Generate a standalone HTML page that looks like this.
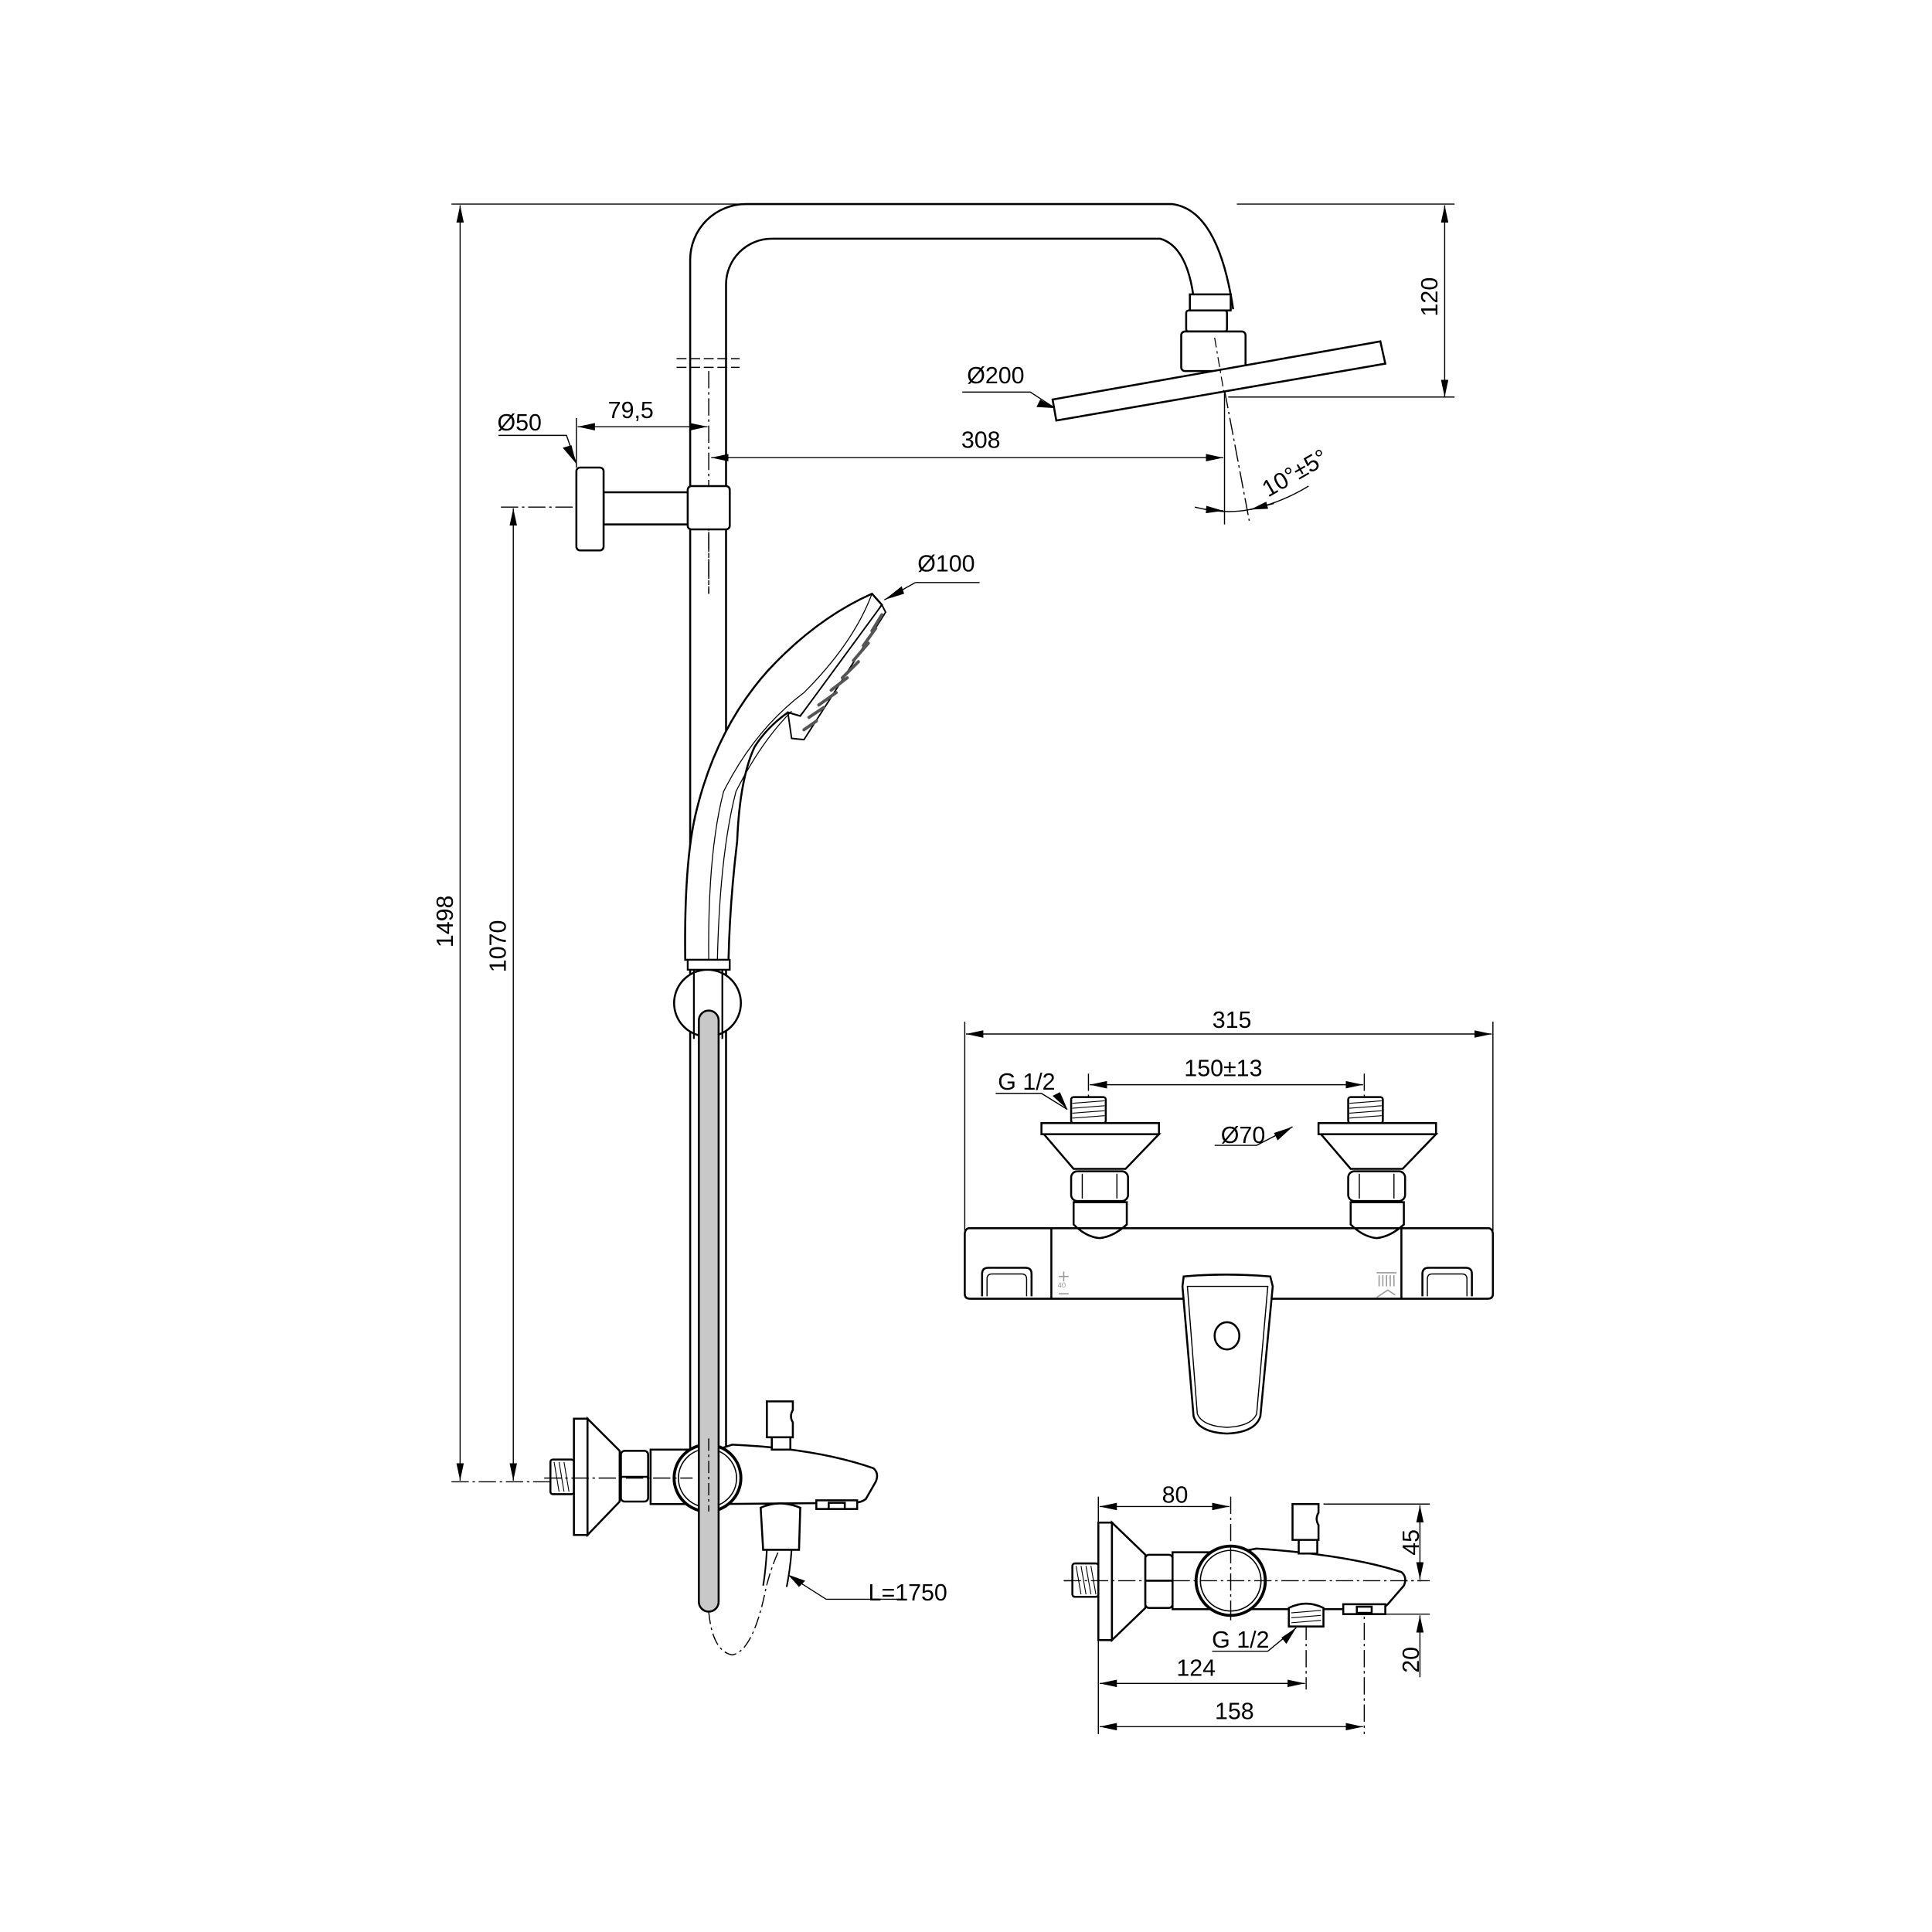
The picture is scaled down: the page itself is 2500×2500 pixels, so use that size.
<!DOCTYPE html>
<html><head><meta charset="utf-8"><style>
html,body{margin:0;padding:0;background:#fff}
svg{display:block}
text{font-family:"Liberation Sans",sans-serif;font-size:19px;fill:#000}
</style></head><body>
<svg width="2500" height="2500" viewBox="0 0 1562 1562" xmlns="http://www.w3.org/2000/svg">
<defs>
<marker id="a" viewBox="0 0 14 6" refX="14" refY="3" markerWidth="14" markerHeight="6" markerUnits="userSpaceOnUse" orient="auto-start-reverse"><path d="M0,0L14,3L0,6z"/></marker>
</defs>
<rect width="1562" height="1562" fill="#fff"/>

<!-- dimension / extension lines -->
<g stroke="#000" stroke-width="0.9" fill="none">
<line x1="365" y1="165" x2="603" y2="165"/>
<line x1="1000" y1="165" x2="1176" y2="165"/>
<line x1="372" y1="166" x2="372" y2="1197" marker-start="url(#a)" marker-end="url(#a)"/>
<line x1="415" y1="411" x2="415" y2="1197" marker-start="url(#a)" marker-end="url(#a)"/>
<line x1="405" y1="410" x2="466" y2="410" stroke-dasharray="14 3 2 3"/>
<line x1="365" y1="1198" x2="445" y2="1198" stroke-dasharray="14 3 2 3"/>
<line x1="1168" y1="166" x2="1168" y2="321" marker-start="url(#a)" marker-end="url(#a)"/>
<line x1="993" y1="321" x2="1176" y2="321"/>
<line x1="575" y1="370" x2="989" y2="370" marker-start="url(#a)" marker-end="url(#a)"/>
<line x1="467" y1="345" x2="572" y2="345" marker-start="url(#a)" marker-end="url(#a)"/>
<line x1="466" y1="338" x2="466" y2="378"/>
<line x1="990" y1="317" x2="990" y2="424"/>
<line x1="982" y1="273" x2="1010" y2="421" stroke-dasharray="14 3 2 3"/>
<path d="M966,410 Q990,416 1010,412 Q1035,407 1058,393"/>
<line x1="976" y1="412" x2="989" y2="413" marker-end="url(#a)"/>
<line x1="1030" y1="407" x2="1011" y2="412" marker-end="url(#a)"/>
<!-- leaders -->
<polyline points="403,352 458,352 466,375" />
<polyline points="778,317 833,317 853,330"/>
<polyline points="740,471 792,471" />
<line x1="740" y1="471" x2="715" y2="485"/>
<polyline points="731,1293 668,1293 646,1279"/>
<polyline points="805,884 842,884 863,897"/>
<polyline points="982,926 1016,926 1045,911"/>
<polyline points="980,1335 1025,1335 1048,1316"/>
<!-- front view dims -->
<line x1="781" y1="836" x2="1206" y2="836" marker-start="url(#a)" marker-end="url(#a)"/>
<line x1="780" y1="826" x2="780" y2="995"/>
<line x1="1207" y1="826" x2="1207" y2="995"/>
<line x1="881" y1="877" x2="1102" y2="877" marker-start="url(#a)" marker-end="url(#a)"/>
<line x1="880" y1="868" x2="880" y2="912" stroke-dasharray="14 3 2 3"/>
<line x1="1103" y1="868" x2="1103" y2="912" stroke-dasharray="14 3 2 3"/>
<!-- bottom right dims -->
<line x1="889" y1="1218" x2="994" y2="1218" marker-start="url(#a)" marker-end="url(#a)"/>
<line x1="888" y1="1210" x2="888" y2="1402"/>
<line x1="995" y1="1210" x2="995" y2="1310" stroke-dasharray="14 3 2 3"/>
<line x1="1056" y1="1290" x2="1056" y2="1366" stroke-dasharray="14 3 2 3"/>
<line x1="1103" y1="1290" x2="1103" y2="1402" stroke-dasharray="14 3 2 3"/>
<line x1="889" y1="1361" x2="1055" y2="1361" marker-start="url(#a)" marker-end="url(#a)"/>
<line x1="889" y1="1396" x2="1102" y2="1396" marker-start="url(#a)" marker-end="url(#a)"/>
<line x1="1070" y1="1216" x2="1156" y2="1216"/>
<line x1="1120" y1="1305" x2="1156" y2="1305"/>
<line x1="1148" y1="1217" x2="1148" y2="1277" marker-start="url(#a)" marker-end="url(#a)"/>
<line x1="1148" y1="1306" x2="1148" y2="1356" marker-start="url(#a)"/>
<line x1="860" y1="1278" x2="1156" y2="1278" stroke-dasharray="14 3 2 3"/>
</g>

<!-- riser -->
<g stroke="#000" stroke-width="1.6" fill="none">
<path d="M558,1172 V210 A45,45 0 0 1 603,165 H948 Q985,170 997,250"/>
<path d="M587,1172 V230 A37,37 0 0 1 624,193 H938 Q962,200 966,250"/>
</g>
<g stroke="#000" stroke-width="0.9" fill="none" stroke-dasharray="8 3">
<line x1="547" y1="290" x2="598" y2="290"/>
<line x1="547" y1="297" x2="598" y2="297"/>
</g>
<line x1="573" y1="300" x2="573" y2="480" stroke="#000" stroke-width="0.9" stroke-dasharray="14 3 2 3"/>

<!-- head -->
<g stroke="#000" stroke-width="1.6" fill="#fff">
<rect x="962" y="238" width="33" height="13"/>
<rect x="959" y="251" width="33" height="17" rx="2"/>
<rect x="955" y="268" width="52" height="32" rx="3"/>
<polygon points="851,323 1116,276 1120,294 854,340"/>
</g>
<line x1="982" y1="273" x2="990" y2="320" stroke="#000" stroke-width="0.8" stroke-dasharray="8 3 2 3"/>

<!-- wall bracket -->
<g stroke="#000" stroke-width="1.6" fill="#fff">
<rect x="488" y="398" width="70" height="26"/>
<rect x="466" y="378" width="22" height="67" rx="3"/>
<rect x="556" y="393" width="34" height="35" rx="3"/>
</g>
<line x1="573" y1="430" x2="573" y2="480" stroke="#000" stroke-width="0.9" stroke-dasharray="14 3 2 3"/>

<!-- hand shower -->
<g stroke="#000" stroke-width="1.6" fill="#fff">
<path d="M554,776 Q553,700 562,660 Q578,590 621,542 Q660,500 705,480 L713,489 Q690,525 647,579 L637,576 Q620,588 610,604 Q598,630 596,680 Q590,730 589,776 Z"/>
<path d="M713,489 L716,495 L650,598 L640,597 L637,576 L647,579 Z" stroke-width="1.2"/>
</g>
<g stroke="#000" stroke-width="0.8" fill="none">
<path d="M573,776 Q572,690 585,640 Q610,590 650,560 Q690,520 705,480"/>
<path d="M580,776 Q582,690 595,640 Q615,600 640,575"/>
</g>
<g stroke="#555" stroke-width="2.5" stroke-linecap="round">
<line x1="713" y1="497" x2="705" y2="510"/><line x1="708" y1="508" x2="698" y2="522"/>
<line x1="702" y1="520" x2="690" y2="534"/><line x1="694" y1="535" x2="681" y2="548"/>
<line x1="685" y1="548" x2="672" y2="558"/><line x1="676" y1="560" x2="662" y2="570"/>
<line x1="666" y1="572" x2="654" y2="580"/><line x1="660" y1="583" x2="650" y2="590"/>
</g>

<!-- holder -->
<circle cx="572" cy="811" r="27" stroke="#000" stroke-width="1.6" fill="#fff"/>
<g stroke="#000" stroke-width="1.4" fill="#fff">
<rect x="556" y="776" width="34" height="8"/>
<line x1="561" y1="784" x2="561" y2="840"/><line x1="584" y1="784" x2="584" y2="840"/>
</g>

<!-- bottom left mixer -->
<g stroke="#000" stroke-width="1.6" fill="#fff">
<rect x="445" y="1180" width="19" height="28" rx="2"/>
<rect x="464" y="1147" width="11" height="94"/>
<polygon points="475,1147 501,1173 501,1214 475,1241"/>
<rect x="502" y="1173" width="22" height="41" rx="3"/>
<line x1="502" y1="1194" x2="524" y2="1194"/>
<rect x="526" y="1172" width="40" height="44"/>
<path d="M580,1172 L592,1168 Q660,1171 706,1187 Q711,1191 708,1198 L700,1212 Q696,1215 690,1215 L580,1216 Z"/>
<rect x="624" y="1160" width="15" height="12"/>
<path d="M620,1133 H641 V1140 Q638,1145 641,1150 V1162 H620 Z"/>
<path d="M615,1219 Q630,1212 647,1219 L646,1253 H617 Z"/>
<rect x="660" y="1213" width="33" height="7"/>
<rect x="670" y="1215" width="13" height="5"/>
<circle cx="572" cy="1195" r="27" stroke-width="2.4"/>
<circle cx="572" cy="1195" r="23.5" stroke-width="1"/>
</g>
<g stroke="#000" stroke-width="0.7">
<line x1="448" y1="1182" x2="452" y2="1206"/><line x1="452" y1="1182" x2="456" y2="1206"/><line x1="456" y1="1182" x2="460" y2="1206"/>
</g>
<g stroke="#000" stroke-width="1.3" fill="none">
<path d="M620,1253 Q619,1270 617,1282"/>
<path d="M640,1253 Q639,1268 636,1283"/>
</g>
<path d="M573,1303 Q576,1335 592,1338 Q608,1335 618,1290 Q622,1270 630,1253" stroke="#000" stroke-width="0.9" fill="none" stroke-dasharray="10 3 2 3"/>
<line x1="440" y1="1195" x2="560" y2="1195" stroke="#000" stroke-width="0.9" stroke-dasharray="14 3 2 3"/>

<!-- grey hose -->
<rect x="565" y="817" width="16" height="486" rx="8" fill="#c8c8c8" stroke="#000" stroke-width="1.6"/>
<line x1="573" y1="1163" x2="573" y2="1222" stroke="#000" stroke-width="0.9" stroke-dasharray="10 3 2 3"/>

<!-- front view valves -->
<g id="v" stroke="#000" stroke-width="1.6" fill="#fff">
<path d="M868,972 H911 V990 Q900,1000 889,1001 Q878,1000 868,990 Z"/>
<rect x="866" y="947" width="46" height="24" rx="5"/>
<line x1="875" y1="949" x2="875" y2="969" stroke-width="0.9"/><line x1="903" y1="949" x2="903" y2="969" stroke-width="0.9"/>
<polygon points="844,917 937,917 910,945 868,945"/>
<rect x="842" y="908" width="95" height="9"/>
<rect x="866" y="887" width="28" height="21" rx="2"/>
<g stroke-width="0.7"><line x1="867" y1="892" x2="893" y2="890"/><line x1="867" y1="896" x2="893" y2="894"/><line x1="867" y1="900" x2="893" y2="898"/><line x1="867" y1="904" x2="893" y2="902"/></g>
</g>
<use href="#v" x="224" y="0"/>

<!-- front body -->
<g stroke="#000" stroke-width="1.6" fill="#fff">
<path d="M783,993 L1204,993 Q1207,994 1207,998 L1207,1046 Q1207,1050 1203,1050 L784,1050 Q780,1050 780,1046 L780,998 Q780,994 783,993 Z" fill="none"/>
<line x1="850" y1="993" x2="850" y2="1050"/><line x1="1133" y1="993" x2="1133" y2="1050"/>
<path d="M794,1048 V1030 Q794,1025 799,1025 H829 Q834,1025 834,1030 V1048"/>
<path d="M798,1048 V1034 Q798,1030 802,1030 H826 Q830,1030 830,1034 V1048" stroke-width="0.9"/>
<path d="M1150,1048 V1030 Q1150,1025 1155,1025 H1185 Q1190,1025 1190,1030 V1048"/>
<path d="M1154,1048 V1034 Q1154,1030 1158,1030 H1182 Q1186,1030 1186,1034 V1048" stroke-width="0.9"/>
<path d="M957,1032 Q990,1029 1027,1032 L1029,1040 L1019,1145 Q1015,1158 992,1159 Q969,1158 965,1145 L956,1040 Z"/>
<path d="M960,1040 L1025,1040 L1016,1143 Q1012,1153 992,1154 Q972,1153 968,1143 Z" stroke-width="0.9" fill="none"/>
<ellipse cx="992" cy="1080" rx="10" ry="11"/>
</g>
<g fill="#999" font-size="6px"><text x="855" y="1041" style="font-size:6px;fill:#999">40</text></g>
<g stroke="#999" stroke-width="1" fill="none">
<line x1="860" y1="1028" x2="860" y2="1036"/><line x1="856" y1="1032" x2="864" y2="1032"/>
<line x1="856" y1="1046" x2="864" y2="1046"/>
<path d="M1113,1049 L1122,1043 L1128,1047"/>
<line x1="1113" y1="1029" x2="1129" y2="1029"/>
<path d="M1115,1031 V1040 M1118,1031 V1040 M1121,1031 V1040 M1124,1031 V1040 M1127,1031 V1040"/>
</g>

<!-- bottom right mixer -->
<g stroke="#000" stroke-width="1.6" fill="#fff">
<rect x="867" y="1264" width="21" height="27" rx="2"/>
<rect x="888" y="1231" width="11" height="95"/>
<polygon points="899,1231 926,1257 926,1300 899,1326"/>
<rect x="926" y="1257" width="22" height="43" rx="3"/>
<line x1="926" y1="1278" x2="948" y2="1278"/>
<rect x="948" y="1255" width="40" height="46"/>
<path d="M1000,1255 L1016,1252 Q1090,1257 1133,1271 Q1138,1275 1135,1282 L1122,1297 Q1118,1301 1112,1301 L1000,1301 Z"/>
<rect x="1050" y="1244" width="15" height="12"/>
<path d="M1045,1216 H1066 V1223 Q1063,1228 1066,1233 V1245 H1045 Z"/>
<path d="M1042,1300 Q1056,1293 1070,1300 V1315 H1042 Z"/>
<rect x="1086" y="1297" width="34" height="8"/>
<rect x="1097" y="1299" width="12" height="5"/>
<circle cx="995" cy="1278" r="28" stroke-width="2.4"/>
<circle cx="995" cy="1278" r="24.5" stroke-width="1"/>
</g>
<g stroke="#000" stroke-width="0.7">
<line x1="870" y1="1266" x2="874" y2="1289"/><line x1="874" y1="1266" x2="878" y2="1289"/><line x1="878" y1="1266" x2="882" y2="1289"/><line x1="882" y1="1266" x2="886" y2="1289"/>
<line x1="1044" y1="1304" x2="1068" y2="1302"/><line x1="1044" y1="1308" x2="1068" y2="1306"/><line x1="1044" y1="1312" x2="1068" y2="1310"/>
</g>
<g stroke="#000" stroke-width="0.9" stroke-dasharray="14 3 2 3">
<line x1="860" y1="1278" x2="1150" y2="1278"/>
<line x1="995" y1="1250" x2="995" y2="1306"/>
</g>

<!-- arrowheads for leaders -->
<g fill="#000">
<path d="M466,375 L455,362 L462,360 Z"/>
<path d="M853,330 L838,329 L841,323 Z"/>
<path d="M715,485 L729,474 L731,480 Z"/>
<path d="M637,1273 L651,1278 L646,1283 Z"/>
<path d="M863,897 L851,886 L857,883 Z"/>
<path d="M1045,911 L1033,922 L1030,916 Z"/>
<path d="M1048,1316 L1040,1329 L1036,1324 Z"/>
</g>

<!-- texts -->
<text x="420" y="348" text-anchor="middle">Ø50</text>
<text x="510" y="338" text-anchor="middle">79,5</text>
<text x="793" y="362" text-anchor="middle">308</text>
<text x="805" y="310" text-anchor="middle">Ø200</text>
<text x="765" y="462" text-anchor="middle">Ø100</text>
<text transform="translate(366,745) rotate(-90)" text-anchor="middle">1498</text>
<text transform="translate(409,765) rotate(-90)" text-anchor="middle">1070</text>
<text transform="translate(1162,240) rotate(-90)" text-anchor="middle">120</text>
<text transform="translate(1050,388) rotate(-30)" text-anchor="middle">10°±5°</text>
<text x="702" y="1294">L=1750</text>
<text x="996" y="831" text-anchor="middle">315</text>
<text x="989" y="870" text-anchor="middle">150±13</text>
<text x="830" y="881" text-anchor="middle">G 1/2</text>
<text x="1005" y="924" text-anchor="middle">Ø70</text>
<text x="950" y="1215" text-anchor="middle">80</text>
<text transform="translate(1147,1247) rotate(-90)" text-anchor="middle">45</text>
<text transform="translate(1147,1342) rotate(-90)" text-anchor="middle">20</text>
<text x="1003" y="1332" text-anchor="middle">G 1/2</text>
<text x="967" y="1355" text-anchor="middle">124</text>
<text x="998" y="1390" text-anchor="middle">158</text>
</svg>
</body></html>
